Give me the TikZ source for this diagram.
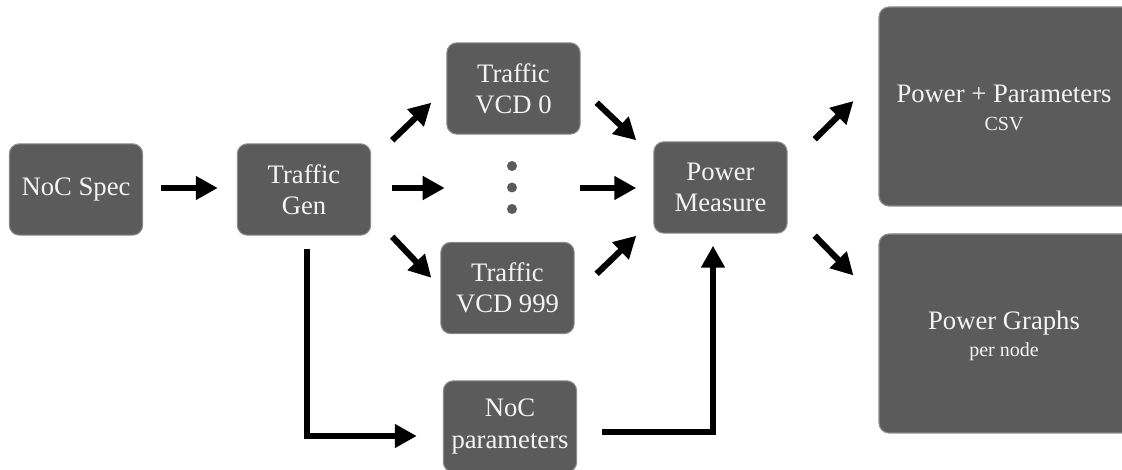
\documentclass[tikz,border=0pt]{standalone}
\usepackage{fontspec}
\setmainfont{Liberation Serif}
\usetikzlibrary{arrows.meta}
\definecolor{boxfill}{HTML}{5B5B5B}
\definecolor{boxline}{HTML}{8C8C8C}
\definecolor{boxtext}{HTML}{F4F4F4}
\tikzset{
  blk/.style={draw=boxline, line width=0.8pt, fill=boxfill, rounded corners=7.5pt,
    text=boxtext, align=center, inner sep=0pt,
    font=\fontsize{20pt}{23.5pt}\selectfont,
    minimum width=100pt, minimum height=68.5pt},
  bigblk/.style={blk, minimum width=198pt, minimum height=149.25pt},
  lbl/.style={text=boxtext, align=center, inner sep=0pt, font=\fontsize{20pt}{23.5pt}\selectfont},
  dotn/.style={circle, fill=boxfill, draw=none, minimum size=7.5pt, inner sep=0pt},
  arr/.style={line width=4.6pt, -{Triangle[length=16.5pt,width=17pt]}}
}
\begin{document}
\begin{tikzpicture}[x=0.75pt,y=-0.75pt]
\useasboundingbox (0,0) rectangle (1122,470);
\clip (0,0) rectangle (1122,470);
% nodes
\node[blk] (spec) at (76,189.5) {NoC Spec};
\node[blk] (gen) at (304,189.5) {Traffic\\Gen};
\node[blk] (vcd0) at (513.5,88.5) {Traffic\\VCD 0};
\node[blk] (vcdn) at (507.5,288) {Traffic\\VCD 999};
\node[blk] (pm) at (720.5,187.5) {Power\\Measure};
\node[blk] (par) at (510,426.5) {NoC\\parameters};
\node[bigblk] (csv) at (1011,106.5) {};
\node[lbl] (csvt) at (1004,108) {Power + Parameters\\[-3pt]{\fontsize{15pt}{17pt}\selectfont CSV}};
\node[bigblk] (gr) at (1011,333.5) {};
\node[lbl] (grt) at (1004,336) {Power Graphs\\[-3pt]{\fontsize{15pt}{17pt}\selectfont per node}};
\node[dotn] (d1) at (512,166) {};
\node[dotn] (d2) at (512,187.5) {};
\node[dotn] (d3) at (512,209) {};
% connectors
\draw[arr] ([shift={(18,-1.5)}]spec.east) -- ([shift={(-19,-1.5)}]gen.west);
\draw[arr] ([shift={(21,-3)}]gen.north east) -- ([shift={(-15,-32)}]vcd0.south west);
\draw[arr] ([shift={(21,-1.5)}]gen.east) -- ([shift={(-62,0.5)}]d2.west);
\draw[arr] ([shift={(21,1)}]gen.south east) -- ([shift={(-9,36)}]vcdn.north west);
\draw[arr] ([shift={(16,-32)}]vcd0.south east) -- ([shift={(-17,-1)}]pm.north west);
\draw[arr] ([shift={(63,0.5)}]d2.east) -- ([shift={(-17,0.5)}]pm.west);
\draw[arr] ([shift={(22,32)}]vcdn.north east) -- ([shift={(-17,2)}]pm.south west);
\draw[arr] ([shift={(27,-2)}]pm.north east) -- ([shift={(-25,-5.5)}]csv.west);
\draw[arr] ([shift={(27,2)}]pm.south east) -- ([shift={(-25,42)}]gr.north west);
\draw[arr] ([shift={(3,13)}]gen.south) |- ([shift={(-26,9.5)}]par.west);
\draw[arr] ([shift={(25,5.5)}]par.east) -| ([shift={(-7.5,12)}]pm.south);
\end{tikzpicture}
\end{document}
